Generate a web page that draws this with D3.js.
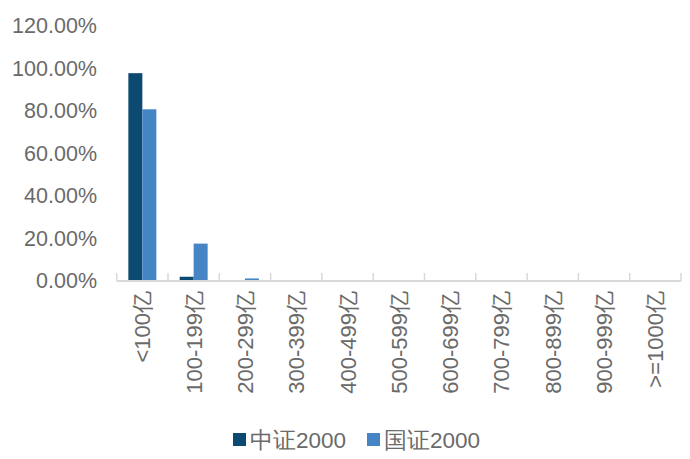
<!DOCTYPE html>
<html><head><meta charset="utf-8">
<script src="https://cdn.jsdelivr.net/npm/d3@7"></script>
<style>body{margin:0;background:#fff;}</style>
</head><body>
<svg id="c" width="690" height="459"></svg>
<script>
const categories = ["<100亿","100-199亿","200-299亿","300-399亿","400-499亿","500-599亿","600-699亿","700-799亿","800-899亿","900-999亿",">=1000亿"];
const seriesNames = ["中证2000","国证2000"];
const csi2000 = [97.8, 2.0, 0.1, 0, 0, 0, 0, 0, 0, 0, 0];
const cni2000 = [80.8, 17.6, 1.2, 0.2, 0, 0, 0, 0, 0, 0, 0.2];
const yTicks = [0, 20, 40, 60, 80, 100, 120];
const colors = ["#0c4a72", "#4584c5"];

(function () {
const svg = d3.select("#c");
const font = "'Liberation Sans', Arial, Helvetica, sans-serif";
const textColor = "#6a6a6a";
const mLeft = 116.7, mRight = 681, mTop = 26, mBottom = 281;

const x = d3.scaleBand().domain(categories).range([mLeft, mRight]).paddingInner(0).paddingOuter(0);
const y = d3.scaleLinear().domain([0, 120]).range([mBottom, mTop]);
const barW = 14;
const xs = d3.scaleBand().domain(seriesNames).range([0, barW * 2]);

const series = [csi2000, cni2000];
series.forEach((vals, si) => {
  svg.append("g").selectAll("rect").data(vals).join("rect")
    .attr("x", (d, i) => x(categories[i]) + (x.bandwidth() - barW * 2) / 2 + xs(seriesNames[si]))
    .attr("y", d => y(d))
    .attr("width", xs.bandwidth())
    .attr("height", d => mBottom - y(d))
    .attr("fill", colors[si]);
});

const yAxis = d3.axisLeft(y).tickValues(yTicks).tickSize(0).tickPadding(0)
  .tickFormat(d => d3.format(".2f")(d) + "%");
const gy = svg.append("g").attr("transform", `translate(97,0)`).call(yAxis);
gy.select(".domain").remove();
gy.selectAll("text").attr("font-family", font).attr("font-size", 21.5).attr("fill", textColor);

const gx = svg.append("g");
gx.append("line").attr("x1", mLeft).attr("x2", mRight).attr("y1", mBottom).attr("y2", mBottom)
  .attr("stroke", "#d9d9d9").attr("stroke-width", 2);
const bounds = categories.map(c => x(c)).concat([mRight]);
gx.selectAll("line.tick").data(bounds).join("line").attr("class", "tick")
  .attr("x1", d => d).attr("x2", d => d).attr("y1", mBottom - 8).attr("y2", mBottom)
  .attr("stroke", "#d9d9d9").attr("stroke-width", 1.5);
gx.selectAll("text").data(categories).join("text")
  .attr("transform", d => `translate(${x(d) + x.bandwidth() / 2 + 8},291) rotate(-90)`)
  .attr("text-anchor", "end")
  .attr("font-family", font).attr("font-size", 22).attr("fill", textColor)
  .text(d => d);

const legend = svg.append("g");
const legendX = [233, 367];
seriesNames.forEach((n, i) => {
  legend.append("rect").attr("x", legendX[i]).attr("y", 433).attr("width", 13).attr("height", 13).attr("fill", colors[i]);
  legend.append("text").attr("x", legendX[i] + 17).attr("y", 448)
    .attr("font-family", font).attr("font-size", 22.5).attr("fill", textColor).text(n);
});
})();
</script>
</body></html>
